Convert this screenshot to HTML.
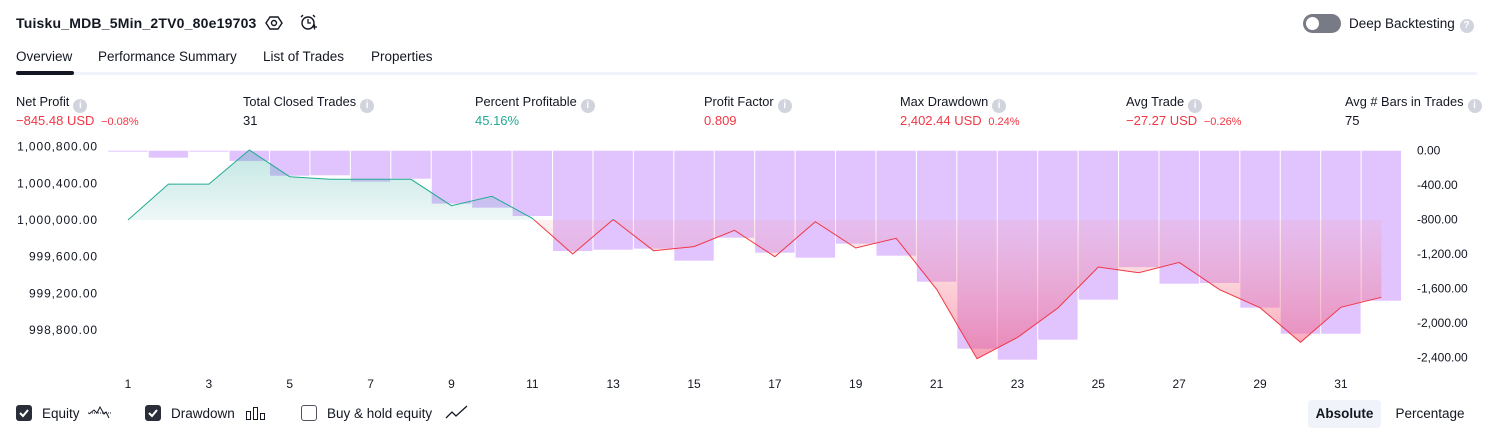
<!DOCTYPE html>
<html><head><meta charset="utf-8"><style>
body{margin:0;width:1494px;height:438px;background:#fff;font-family:"Liberation Sans",sans-serif;color:#131722;position:relative;overflow:hidden}
.a{position:absolute;white-space:nowrap}
.t{font-size:13.5px}
.lbl{font-size:12.8px;color:#131722}
.val{font-size:13px}
.red{color:#f23645}.grn{color:#22ab94}
.sm{font-size:11px}
.info{display:inline-block;width:14px;height:14px;border-radius:50%;background:#d1d4dc;color:#fff;font-size:10px;text-align:center;line-height:14px;font-weight:bold;vertical-align:-2px;margin-left:4px}
.cb{position:absolute;width:16px;height:16px;border-radius:3px;box-sizing:border-box}
</style></head><body>
<div class="a" style="left:16px;top:15px;font-size:14px;font-weight:bold;letter-spacing:0.2px">Tuisku_MDB_5Min_2TV0_80e19703</div>
<svg class="a" style="left:265px;top:14px" width="18" height="18"><polygon points="5,3 13,3 17,9 13,15 5,15 1,9" fill="none" stroke="#131722" stroke-width="1.4"/><circle cx="9" cy="9" r="2.5" fill="none" stroke="#131722" stroke-width="1.4"/></svg>
<svg class="a" style="left:298px;top:13px" width="20" height="20"><circle cx="10" cy="10" r="6" fill="none" stroke="#131722" stroke-width="1.4"/><path d="M10 6v4h3M3 4l2-2M17 4l-2-2M14 14h5M16.5 11.5v5" stroke="#131722" stroke-width="1.3" fill="none"/></svg>
<div class="a" style="left:1303px;top:14px;width:38px;height:19px;border-radius:10px;background:#787b86"><div style="position:absolute;left:3px;top:3px;width:13px;height:13px;border-radius:50%;background:#fff"></div></div>
<div class="a t" style="left:1349px;top:16px">Deep Backtesting <span class="info" style="margin-left:1px;vertical-align:0">?</span></div>
<div class="a t" style="left:16px;top:49px">Overview</div>
<div class="a t" style="left:98px;top:49px">Performance Summary</div>
<div class="a t" style="left:263px;top:49px">List of Trades</div>
<div class="a t" style="left:371px;top:49px">Properties</div>
<div class="a" style="left:16px;top:72px;width:1461px;height:3px;background:#f0f3fa"></div>
<div class="a" style="left:16px;top:71px;width:58px;height:4px;border-radius:2px;background:#131722"></div>

<div class="a lbl" style="left:16px;top:94px">Net Profit<span class="info">i</span></div>
<div class="a val red" style="left:16px;top:113px">−845.48 USD <span class="sm">&nbsp;−0.08%</span></div>
<div class="a lbl" style="left:243px;top:94px">Total Closed Trades<span class="info">i</span></div>
<div class="a val" style="left:243px;top:113px">31</div>
<div class="a lbl" style="left:475px;top:94px">Percent Profitable<span class="info">i</span></div>
<div class="a val grn" style="left:475px;top:113px">45.16%</div>
<div class="a lbl" style="left:704px;top:94px">Profit Factor<span class="info">i</span></div>
<div class="a val red" style="left:704px;top:113px">0.809</div>
<div class="a lbl" style="left:900px;top:94px">Max Drawdown<span class="info">i</span></div>
<div class="a val red" style="left:900px;top:113px">2,402.44 USD <span class="sm">&nbsp;0.24%</span></div>
<div class="a lbl" style="left:1126px;top:94px">Avg Trade<span class="info">i</span></div>
<div class="a val red" style="left:1126px;top:113px">−27.27 USD <span class="sm">&nbsp;−0.26%</span></div>
<div class="a lbl" style="left:1345px;top:94px">Avg # Bars in Trades<span class="info">i</span></div>
<div class="a val" style="left:1345px;top:113px">75</div>

<svg id="chart" class="a" style="left:0;top:0" width="1494" height="438">
<defs>
<linearGradient id="gT" x1="0" y1="150" x2="0" y2="220" gradientUnits="userSpaceOnUse"><stop offset="0" stop-color="#26a69a" stop-opacity="0.28"/><stop offset="1" stop-color="#26a69a" stop-opacity="0.08"/></linearGradient>
<linearGradient id="gP" x1="0" y1="220" x2="0" y2="360" gradientUnits="userSpaceOnUse"><stop offset="0" stop-color="#ff8a8a" stop-opacity="0.12"/><stop offset="1" stop-color="#f0507a" stop-opacity="0.55"/></linearGradient>
<clipPath id="cA"><rect x="0" y="0" width="1494" height="220"/></clipPath>
<clipPath id="cB"><rect x="0" y="220" width="1494" height="218"/></clipPath>
</defs>
<g id="bars"></g><g id="fills"></g><g id="lines"></g><g id="axes"></g>
</svg>

<div class="cb" style="left:16px;top:405px;background:#2a2e39"><svg width="16" height="16"><path d="M4 8l3 3 5-6" stroke="#fff" stroke-width="2" fill="none"/></svg></div>
<div class="a t" style="left:42px;top:406px">Equity</div>
<svg class="a" style="left:87px;top:404px" width="26" height="16"><path d="M1 9h24" stroke="#131722" stroke-dasharray="1 1"/><path d="M2 10l5-4 3 3 3-6 4 7 2-2 3 6" stroke="#131722" fill="none"/></svg>
<div class="cb" style="left:145px;top:405px;background:#2a2e39"><svg width="16" height="16"><path d="M4 8l3 3 5-6" stroke="#fff" stroke-width="2" fill="none"/></svg></div>
<div class="a t" style="left:171px;top:406px">Drawdown</div>
<svg class="a" style="left:245px;top:405px" width="22" height="16"><rect x="1.5" y="6.5" width="4" height="8" fill="none" stroke="#131722"/><rect x="8.5" y="2.5" width="4" height="12" fill="none" stroke="#131722"/><rect x="15.5" y="8.5" width="4" height="6" fill="none" stroke="#131722"/></svg>
<div class="cb" style="left:301px;top:405px;border:1.5px solid #50535e;background:#fff"></div>
<div class="a t" style="left:327px;top:406px">Buy &amp; hold equity</div>
<svg class="a" style="left:445px;top:404px" width="24" height="16"><path d="M1 14l6-6 4 4 11-10" stroke="#131722" fill="none" stroke-width="1.3"/></svg>
<div class="a t" style="left:1308px;top:400px;width:73px;height:28px;line-height:28px;text-align:center;background:#f0f3fa;border-radius:4px;font-weight:bold">Absolute</div>
<div class="a t" style="left:1385px;top:400px;width:90px;height:28px;line-height:28px;text-align:center">Percentage</div>

<script>
const trades=[1,2,3,4,5,6,7,8,9,10,11,12,13,14,15,16,17,18,19,20,21,22,23,24,25,26,27,28,29,30,31,32];
const equity=[0,392,392,763,472,444,444,444,156,258,18,-371,5,-335,-290,-112,-400,-18,-305,-200,-756,-1513,-1280,-960,-513,-575,-462,-760,-956,-1334,-952,-843];
const drawdown=[-8,-81,-5,-119,-290,-285,-359,-325,-614,-661,-757,-1163,-1148,-1136,-1275,-1009,-1183,-1240,-1078,-1217,-1519,-2296,-2423,-2191,-1727,-1350,-1542,-1534,-1820,-2122,-2122,-1739];
const leftTicks=[800,400,0,-400,-800,-1200];
const leftTickLabels=["1,000,800.00","1,000,400.00","1,000,000.00","999,600.00","999,200.00","998,800.00"];
const rightTicks=[0,-400,-800,-1200,-1600,-2000,-2400];
const rightTickLabels=["0.00","-400.00","-800.00","-1,200.00","-1,600.00","-2,000.00","-2,400.00"];
const xTickLabels=[1,3,5,7,9,11,13,15,17,19,21,23,25,27,29,31];

const NS="http://www.w3.org/2000/svg";
const X=i=>128+(i-1)*40.43;
const YL=v=>220-v*0.0917;
const YR=v=>150.7-v*0.08625;
function mk(tag,attrs,parent){const e=document.createElementNS(NS,tag);for(const k in attrs)e.setAttribute(k,attrs[k]);parent.appendChild(e);return e;}
const gB=document.getElementById('bars'),gF=document.getElementById('fills'),gL=document.getElementById('lines'),gA=document.getElementById('axes');
trades.forEach((t,i)=>{
  const y0=YR(0),y1=YR(drawdown[i]);
  const r=mk('rect',{x:X(t)-19.7,y:y0,width:39.4,height:Math.max(1,y1-y0),fill:'#e1c4fd'},gB);
  
  
});
const pts=trades.map((t,i)=>X(t).toFixed(1)+','+YL(equity[i]).toFixed(1)).join(' ');
const area=pts+' '+X(trades[trades.length-1])+','+YL(0)+' '+X(trades[0])+','+YL(0);
const fa=mk('polygon',{points:area,fill:'url(#gT)','clip-path':'url(#cA)'},gF);


const fb=mk('polygon',{points:area,fill:'url(#gP)','clip-path':'url(#cB)'},gF);


const la=mk('polyline',{points:pts,fill:'none',stroke:'#22ab94','stroke-width':1,'clip-path':'url(#cA)'},gL);


const lb=mk('polyline',{points:pts,fill:'none',stroke:'#f23645','stroke-width':1,'clip-path':'url(#cB)'},gL);


const st='font-family:Liberation Sans,sans-serif;font-size:12px;fill:#131722';
leftTicks.forEach((v,i)=>{const e=mk('text',{x:98,y:YL(v)+4,'text-anchor':'end',style:st+';letter-spacing:0.9px'},gA);e.textContent=leftTickLabels[i];
  
  });
rightTicks.forEach((v,i)=>{const e=mk('text',{x:1417,y:YR(v)+4,style:st},gA);e.textContent=rightTickLabels[i];
  
  });
xTickLabels.forEach(t=>{const e=mk('text',{x:X(t),y:388,'text-anchor':'middle',style:st},gA);e.textContent=t;
  
  });
</script>
</body></html>
